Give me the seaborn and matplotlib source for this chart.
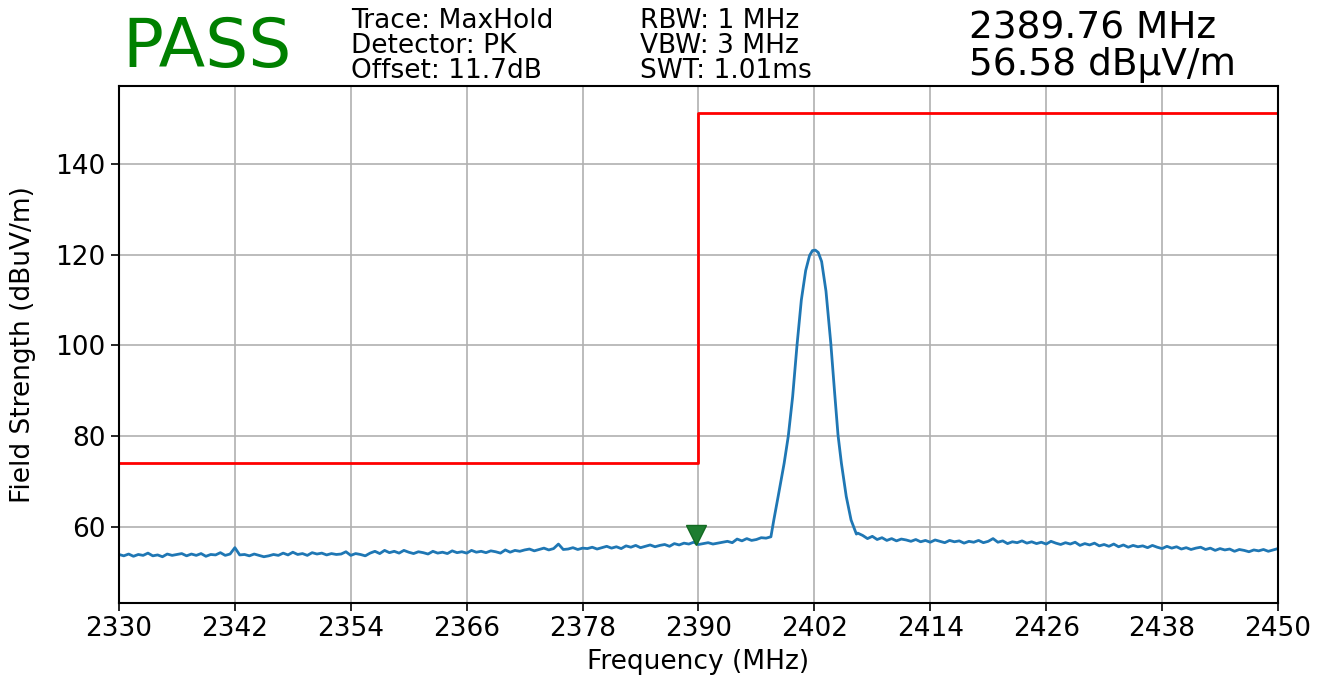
import numpy as np
import pandas as pd
import matplotlib
matplotlib.use("Agg")
import matplotlib.pyplot as plt
import matplotlib.transforms as mtransforms
import seaborn as sns

# sweep below the carrier, 0.5 MHz steps 2330 -> 2397
low_levels = [
    53.9, 53.6, 54.0, 53.5, 53.9, 53.7, 54.2, 53.6, 53.8, 53.4, 54.0, 53.7, 53.9, 54.1,
    53.6, 54.0, 53.7, 54.1, 53.5, 53.9, 53.8, 54.3, 53.7, 54.0, 55.4, 53.8, 53.9, 53.6,
    54.0, 53.7, 53.4, 53.6, 53.9, 53.7, 54.2, 53.8, 54.4, 53.9, 54.1, 53.7, 54.3, 54.0,
    54.2, 53.8, 54.1, 53.9, 54.0, 54.5, 53.7, 54.1, 53.9, 53.6, 54.2, 54.6, 54.1, 54.8,
    54.3, 54.6, 54.2, 54.8, 54.4, 54.1, 54.5, 54.3, 54.0, 54.6, 54.2, 54.4, 54.1, 54.7,
    54.3, 54.5, 54.2, 54.8, 54.4, 54.6, 54.3, 54.7, 54.5, 54.2, 54.9, 54.4, 54.8, 54.6,
    54.9, 55.1, 54.7, 55.0, 55.3, 54.9, 55.2, 56.2, 55.0, 55.1, 55.4, 55.0, 55.3, 55.2,
    55.5, 55.1, 55.4, 55.7, 55.3, 55.6, 55.2, 55.8, 55.5, 55.9, 55.4, 55.7, 56.0, 55.6,
    55.9, 56.1, 55.7, 56.3, 56.0, 56.4, 56.2, 56.6, 56.1, 56.3, 56.5, 56.2, 56.4, 56.6,
    56.8, 56.5, 57.3, 56.9, 57.4, 57.0, 57.2, 57.6, 57.5,
]

# carrier around 2402 MHz
peak_freq = [2397.5, 2397.8, 2398.25, 2398.87, 2399.3, 2399.75, 2400.2, 2400.65,
             2401.1, 2401.5, 2401.8, 2402.1, 2402.4, 2402.75, 2403.2, 2403.7,
             2404.1, 2404.45, 2404.8, 2405.3, 2405.8, 2406.35]
peak_levels = [57.8, 61.5, 66.7, 74.0, 80.0, 88.7, 100.0, 110.0,
               116.5, 119.8, 120.9, 121.0, 120.5, 118.5, 112.0, 100.5,
               89.5, 80.2, 74.0, 66.7, 61.5, 58.4]

# sweep above the carrier, 0.5 MHz steps 2406.5 -> 2450
high_levels = [
    58.6, 58.1, 57.4, 57.9, 57.2, 57.6, 57.0, 57.4, 56.9, 57.3, 57.1, 56.8,
    57.2, 56.7, 57.0, 56.6, 57.1, 56.8, 56.5, 57.0, 56.7, 56.9, 56.4, 56.8,
    56.6, 57.0, 56.5, 56.8, 57.4, 56.6, 56.9, 56.3, 56.7, 56.5, 56.9, 56.4,
    56.7, 56.3, 56.6, 56.2, 56.8, 56.4, 56.1, 56.5, 56.2, 56.6, 55.9, 56.3,
    56.0, 56.4, 55.8, 56.1, 55.7, 56.2, 55.6, 56.0, 55.5, 55.9, 55.6, 55.8,
    55.4, 55.9, 55.5, 55.2, 55.7, 55.3, 55.6, 55.1, 55.4, 55.0, 55.3, 55.5,
    55.0, 55.3, 54.8, 55.2, 54.9, 55.1, 54.6, 55.0, 54.8, 54.5, 54.9, 54.7,
    55.0, 54.6, 54.9, 55.2,
]

limit_freq = [2330, 2390, 2390, 2450]
limit_levels = [74.0, 74.0, 151.3, 151.3]

marker_freq = 2389.76
marker_level = 56.58

x_ticks = [2330, 2342, 2354, 2366, 2378, 2390, 2402, 2414, 2426, 2438, 2450]
y_ticks = [60, 80, 100, 120, 140]

freq = np.concatenate([np.linspace(2330, 2397, len(low_levels)),
                       peak_freq,
                       np.linspace(2406.5, 2450, len(high_levels))])
level = np.concatenate([low_levels, peak_levels, high_levels])
trace = pd.DataFrame({"freq": freq, "level": level})
limit = pd.DataFrame({"freq": limit_freq, "level": limit_levels})

sns.set_theme(style="ticks")
plt.rcParams['font.family'] = ['DejaVu Sans']
plt.rcParams['text.color'] = 'black'
plt.rcParams['axes.labelcolor'] = 'black'
plt.rcParams['xtick.color'] = 'black'
plt.rcParams['ytick.color'] = 'black'

fig = plt.figure(figsize=(13.25, 6.85), dpi=100)
ax = fig.add_axes([0.0898, 0.1197, 0.8747, 0.7548])

sns.lineplot(data=trace, x="freq", y="level", ax=ax, color="#1f77b4", linewidth=2,
             sort=False, estimator=None)
sns.lineplot(data=limit, x="freq", y="level", ax=ax, color="red", linewidth=2,
             sort=False, estimator=None)

# marker arrow sits just above the trace point
off = mtransforms.offset_copy(ax.transData, fig=fig, x=0, y=7, units="dots")
ax.plot([marker_freq], [marker_level], marker="v", markersize=15, color="#1e7d30",
        markeredgecolor="#136a22", transform=off, zorder=5)

ax.set_xlim(2330, 2450)
ax.set_ylim(43.2, 157.2)
ax.set_xticks(x_ticks)
ax.set_yticks(y_ticks)
ax.grid(True, color="#b0b0b0", linewidth=1.2)
for s in ax.spines.values():
    s.set_color("black")
    s.set_linewidth(1.5)
ax.tick_params(labelsize=19, length=6, width=1.2)
ax.set_xlabel("Frequency (MHz)", fontsize=19, labelpad=5)
ax.set_ylabel("Field Strength (dBuV/m)", fontsize=19, labelpad=14)

fig.text(0.092, 0.902, "PASS", color="green", fontsize=49)
fig.text(0.265, 0.988, "Trace: MaxHold\nDetector: PK\nOffset: 11.7dB", fontsize=19,
         va="top", linespacing=0.94)
fig.text(0.483, 0.988, "RBW: 1 MHz\nVBW: 3 MHz\nSWT: 1.01ms", fontsize=19,
         va="top", linespacing=0.94)
fig.text(0.731, 0.985, f"{marker_freq:.2f} MHz\n{marker_level:.2f} dBµV/m", fontsize=27,
         va="top", linespacing=1.02)

fig.savefig("out.png", dpi=100)
